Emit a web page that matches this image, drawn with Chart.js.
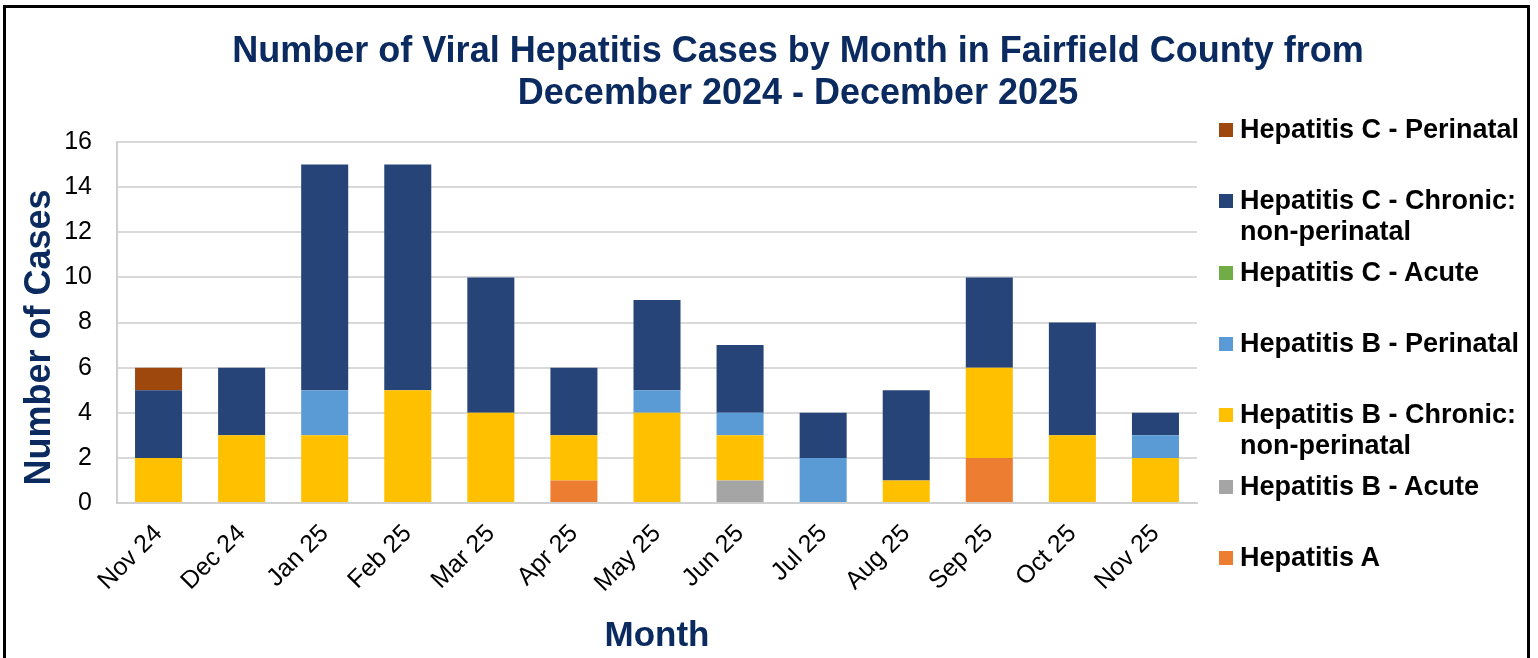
<!DOCTYPE html>
<html>
<head>
<meta charset="utf-8">
<script src="https://cdn.jsdelivr.net/npm/chart.js@4"></script>
<style>
  html, body { margin: 0; padding: 0; background: #fff; overflow: hidden; }
  #wrap { position: relative; width: 1538px; height: 658px; }
  #frame { position: absolute; left: 3px; top: 5px; width: 1527px; height: 700px; border: 3px solid #000; box-sizing: border-box; pointer-events: none; }
  #title { position: absolute; left: 198px; width: 1200px; top: 29px; text-align: center; white-space: nowrap;
    font: bold 36px "Liberation Sans", Arial, sans-serif; line-height: 42px; color: #0b2b60; }
  #legend { position: absolute; left: 1219px; top: 0; }
  .item { position: absolute; left: 0; width: 310px; font: bold 27px "Liberation Sans", Arial, sans-serif; line-height: 31px; color: #000; }
  .sw { position: absolute; left: 0; top: 9px; width: 14px; height: 14px; }
  .txt { position: absolute; left: 21px; top: 0; white-space: nowrap; }
  canvas { position: absolute; left: 0; top: 0; }
</style>
</head>
<body>
<div id="wrap">
  <canvas id="chart" width="1538" height="658"></canvas>
  <div id="title">Number of Viral Hepatitis Cases by Month in Fairfield County from<br>December 2024 - December 2025</div>
  <div id="legend"></div>
  <div id="frame"></div>
</div>
<script>
// Categories
const months = ["Nov 24", "Dec 24", "Jan 25", "Feb 25", "Mar 25", "Apr 25", "May 25",
  "Jun 25", "Jul 25", "Aug 25", "Sep 25", "Oct 25", "Nov 25"];

// Series values (stacked bottom to top)
const hepA          = [0, 0, 0, 0, 0, 1, 0, 0, 0, 0, 2, 0, 0];
const hepBAcute     = [0, 0, 0, 0, 0, 0, 0, 1, 0, 0, 0, 0, 0];
const hepBChronic   = [2, 3, 3, 5, 4, 2, 4, 2, 0, 1, 4, 3, 2];
const hepBPerinatal = [0, 0, 2, 0, 0, 0, 1, 1, 2, 0, 0, 0, 1];
const hepCAcute     = [0, 0, 0, 0, 0, 0, 0, 0, 0, 0, 0, 0, 0];
const hepCChronic   = [3, 3, 10, 10, 6, 3, 4, 3, 2, 4, 4, 5, 1];
const hepCPerinatal = [1, 0, 0, 0, 0, 0, 0, 0, 0, 0, 0, 0, 0];

// Y tick labels
const yTicks = [0, 2, 4, 6, 8, 10, 12, 14, 16];

const navy = "#0b2b60";
const font = '"Liberation Sans", Arial, sans-serif';

const datasets = [
  { label: "Hepatitis A", data: hepA, backgroundColor: "#ED7D31" },
  { label: "Hepatitis B - Acute", data: hepBAcute, backgroundColor: "#A5A5A5" },
  { label: "Hepatitis B - Chronic:\nnon-perinatal", data: hepBChronic, backgroundColor: "#FFC000" },
  { label: "Hepatitis B - Perinatal", data: hepBPerinatal, backgroundColor: "#5B9BD5" },
  { label: "Hepatitis C - Acute", data: hepCAcute, backgroundColor: "#70AD47" },
  { label: "Hepatitis C - Chronic:\nnon-perinatal", data: hepCChronic, backgroundColor: "#264478" },
  { label: "Hepatitis C - Perinatal", data: hepCPerinatal, backgroundColor: "#9E480E" },
];
datasets.forEach((d) => {
  d.barPercentage = 0.566;
  d.categoryPercentage = 1;
  d.borderWidth = 0;
});

const chart = new Chart(document.getElementById("chart"), {
  type: "bar",
  data: { labels: months, datasets: datasets },
  options: {
    responsive: false,
    animation: false,
    layout: { padding: { left: 8, right: 341, top: 142, bottom: 0 } },
    plugins: {
      legend: { display: false },
      title: { display: false },
      tooltip: { enabled: false },
    },
    scales: {
      x: {
        stacked: true,
        grid: { display: false, drawTicks: false },
        border: { display: true, color: "#d0d0d0", width: 2 },
        ticks: {
          color: "#000",
          font: { family: font, size: 25 },
          minRotation: 45,
          maxRotation: 45,
          autoSkip: false,
          padding: 16,
        },
        title: {
          display: true,
          text: "Month",
          color: navy,
          font: { family: font, size: 35, weight: "bold" },
          padding: { top: 0, bottom: 1 },
        },
        afterFit: (s) => { s.height = 155; },
      },
      y: {
        stacked: true,
        min: 0,
        max: 16,
        afterBuildTicks: (s) => { s.ticks = yTicks.map((v) => ({ value: v })); },
        grid: { color: "#d9d9d9", lineWidth: 2, drawTicks: false },
        border: { display: true, color: "#d0d0d0", width: 2 },
        ticks: {
          color: "#000",
          font: { family: font, size: 25 },
          padding: 25,
        },
        title: {
          display: true,
          text: "Number of Cases   ",
          color: navy,
          font: { family: font, size: 36, weight: "bold" },
          padding: { top: 10, bottom: 0 },
        },
        afterFit: (s) => { s.width = 109; },
      },
    },
  },
});

// Legend (top to bottom = reverse stack order)
const legendEl = document.getElementById("legend");
datasets.slice().reverse().forEach((d, i) => {
  const item = document.createElement("div");
  item.className = "item";
  item.style.top = (130 - 16 + i * 71.3) + "px";
  const sw = document.createElement("div");
  sw.className = "sw";
  sw.style.background = d.backgroundColor;
  const txt = document.createElement("div");
  txt.className = "txt";
  txt.innerHTML = d.label.split("\n").join("<br>");
  item.appendChild(sw);
  item.appendChild(txt);
  legendEl.appendChild(item);
});
</script>
</body>
</html>
